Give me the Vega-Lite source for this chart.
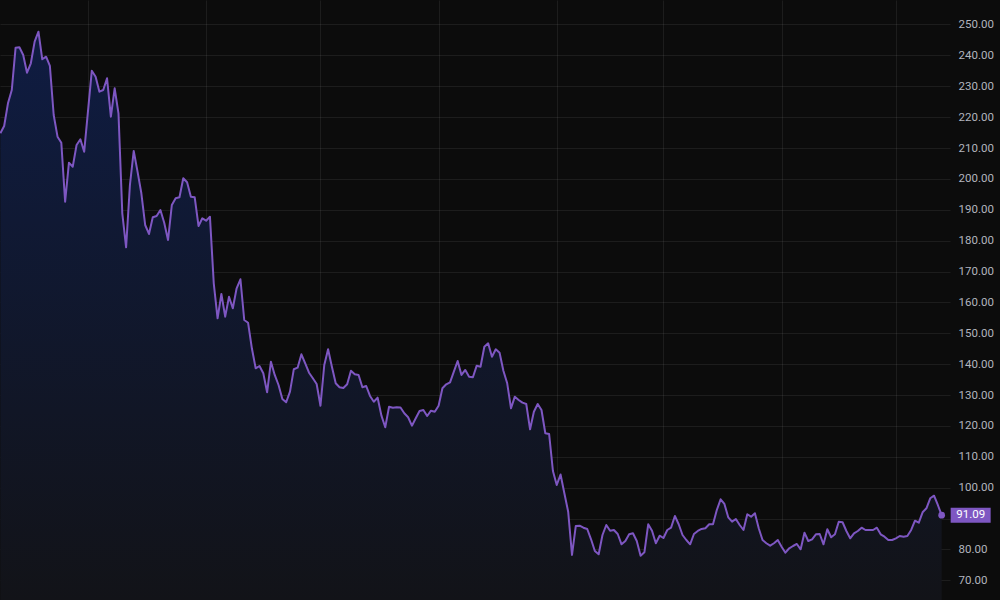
{
  "$schema": "https://vega.github.io/schema/vega-lite/v6.json",
  "width": 950,
  "height": 600,
  "autosize": "none",
  "padding": {"left": 0, "top": 0, "right": 50, "bottom": 0},
  "background": "#0c0c0c",
  "config": {"view": {"stroke": null}},
  "datasets": {
    "series": [
      {"date": "2022-09-08", "price": 214.77}, {"date": "2022-09-09", "price": 217.13}, {"date": "2022-09-10", "price": 224.48},
      {"date": "2022-09-11", "price": 228.79}, {"date": "2022-09-12", "price": 242.49}, {"date": "2022-09-13", "price": 242.62},
      {"date": "2022-09-14", "price": 240.12}, {"date": "2022-09-15", "price": 234.39}, {"date": "2022-09-16", "price": 237.44},
      {"date": "2022-09-17", "price": 244.43}, {"date": "2022-09-18", "price": 247.67}, {"date": "2022-09-19", "price": 238.73},
      {"date": "2022-09-20", "price": 239.57}, {"date": "2022-09-21", "price": 236.56}, {"date": "2022-09-22", "price": 220.69},
      {"date": "2022-09-23", "price": 213.67}, {"date": "2022-09-24", "price": 211.72}, {"date": "2022-09-25", "price": 192.62},
      {"date": "2022-09-26", "price": 205.25}, {"date": "2022-09-27", "price": 203.95}, {"date": "2022-09-28", "price": 210.98},
      {"date": "2022-09-29", "price": 212.82}, {"date": "2022-09-30", "price": 208.81}, {"date": "2022-10-02", "price": 235.04},
      {"date": "2022-10-03", "price": 233.1}, {"date": "2022-10-04", "price": 228.24}, {"date": "2022-10-05", "price": 228.79},
      {"date": "2022-10-06", "price": 232.58}, {"date": "2022-10-07", "price": 220.14}, {"date": "2022-10-08", "price": 229.34},
      {"date": "2022-10-09", "price": 221.24}, {"date": "2022-10-10", "price": 188.86}, {"date": "2022-10-11", "price": 177.85},
      {"date": "2022-10-12", "price": 198.02}, {"date": "2022-10-13", "price": 209.04}, {"date": "2022-10-14", "price": 202.33},
      {"date": "2022-10-15", "price": 195.34}, {"date": "2022-10-16", "price": 185.07}, {"date": "2022-10-17", "price": 182.16},
      {"date": "2022-10-18", "price": 187.56}, {"date": "2022-10-19", "price": 187.99}, {"date": "2022-10-20", "price": 189.93},
      {"date": "2022-10-21", "price": 185.82}, {"date": "2022-10-22", "price": 180.21}, {"date": "2022-10-23", "price": 191.55},
      {"date": "2022-10-24", "price": 193.72}, {"date": "2022-10-25", "price": 194.04}, {"date": "2022-10-26", "price": 200.19},
      {"date": "2022-10-27", "price": 198.9}, {"date": "2022-10-28", "price": 194.24}, {"date": "2022-10-29", "price": 194.04},
      {"date": "2022-10-30", "price": 184.75}, {"date": "2022-10-31", "price": 187.24}, {"date": "2022-11-01", "price": 186.46},
      {"date": "2022-11-02", "price": 187.76}, {"date": "2022-11-03", "price": 166.19}, {"date": "2022-11-04", "price": 154.86},
      {"date": "2022-11-05", "price": 162.73}, {"date": "2022-11-06", "price": 155.38}, {"date": "2022-11-07", "price": 161.85},
      {"date": "2022-11-08", "price": 158.1}, {"date": "2022-11-09", "price": 164.57}, {"date": "2022-11-10", "price": 167.49},
      {"date": "2022-11-11", "price": 154.31}, {"date": "2022-11-12", "price": 153.43}, {"date": "2022-11-13", "price": 145.14},
      {"date": "2022-11-14", "price": 138.67}, {"date": "2022-11-15", "price": 139.41}, {"date": "2022-11-16", "price": 137.05},
      {"date": "2022-11-17", "price": 130.89}, {"date": "2022-11-18", "price": 140.8}, {"date": "2022-11-19", "price": 136.5},
      {"date": "2022-11-20", "price": 133.26}, {"date": "2022-11-21", "price": 128.72}, {"date": "2022-11-22", "price": 127.66},
      {"date": "2022-11-23", "price": 131.09}, {"date": "2022-11-24", "price": 138.34}, {"date": "2022-11-25", "price": 138.86},
      {"date": "2022-11-26", "price": 143.2}, {"date": "2022-11-27", "price": 140.28}, {"date": "2022-11-28", "price": 137.24},
      {"date": "2022-11-29", "price": 135.43}, {"date": "2022-11-30", "price": 133.58}, {"date": "2022-12-01", "price": 126.55},
      {"date": "2022-12-02", "price": 139.73}, {"date": "2022-12-03", "price": 144.82}, {"date": "2022-12-04", "price": 139.18},
      {"date": "2022-12-05", "price": 133.81}, {"date": "2022-12-06", "price": 132.51}, {"date": "2022-12-07", "price": 132.29},
      {"date": "2022-12-08", "price": 133.48}, {"date": "2022-12-09", "price": 137.89}, {"date": "2022-12-10", "price": 136.72},
      {"date": "2022-12-11", "price": 136.5}, {"date": "2022-12-12", "price": 132.51}, {"date": "2022-12-13", "price": 132.93},
      {"date": "2022-12-14", "price": 129.7}, {"date": "2022-12-15", "price": 127.85}, {"date": "2022-12-16", "price": 129.15},
      {"date": "2022-12-17", "price": 123.32}, {"date": "2022-12-18", "price": 119.56}, {"date": "2022-12-19", "price": 126.23},
      {"date": "2022-12-20", "price": 125.91}, {"date": "2022-12-21", "price": 126.04}, {"date": "2022-12-22", "price": 125.95},
      {"date": "2022-12-23", "price": 124.09}, {"date": "2022-12-24", "price": 122.8}, {"date": "2022-12-25", "price": 120.08},
      {"date": "2022-12-26", "price": 122.47}, {"date": "2022-12-27", "price": 124.84}, {"date": "2022-12-28", "price": 125.16},
      {"date": "2022-12-29", "price": 123.22}, {"date": "2022-12-30", "price": 124.94}, {"date": "2022-12-31", "price": 124.61},
      {"date": "2023-01-01", "price": 126.55}, {"date": "2023-01-02", "price": 132.19}, {"date": "2023-01-03", "price": 133.48},
      {"date": "2023-01-04", "price": 134.13}, {"date": "2023-01-05", "price": 137.56}, {"date": "2023-01-06", "price": 141.03},
      {"date": "2023-01-07", "price": 136.5}, {"date": "2023-01-08", "price": 138.12}, {"date": "2023-01-09", "price": 135.95},
      {"date": "2023-01-10", "price": 135.75}, {"date": "2023-01-11", "price": 139.51}, {"date": "2023-01-12", "price": 139.18},
      {"date": "2023-01-13", "price": 145.66}, {"date": "2023-01-14", "price": 146.76}, {"date": "2023-01-15", "price": 142.42},
      {"date": "2023-01-16", "price": 144.82}, {"date": "2023-01-17", "price": 143.72}, {"date": "2023-01-18", "price": 137.89},
      {"date": "2023-01-19", "price": 133.81}, {"date": "2023-01-20", "price": 125.71}, {"date": "2023-01-21", "price": 129.47},
      {"date": "2023-01-22", "price": 128.4}, {"date": "2023-01-23", "price": 127.53}, {"date": "2023-01-24", "price": 127.1},
      {"date": "2023-01-25", "price": 118.91}, {"date": "2023-01-26", "price": 124.61}, {"date": "2023-01-27", "price": 127.1},
      {"date": "2023-01-28", "price": 125.16}, {"date": "2023-01-29", "price": 117.62}, {"date": "2023-01-30", "price": 117.39},
      {"date": "2023-01-31", "price": 105.41}, {"date": "2023-02-01", "price": 100.87}, {"date": "2023-02-02", "price": 104.27},
      {"date": "2023-02-03", "price": 98.19}, {"date": "2023-02-04", "price": 92.23}, {"date": "2023-02-05", "price": 78.21},
      {"date": "2023-02-06", "price": 87.6}, {"date": "2023-02-07", "price": 87.69}, {"date": "2023-02-08", "price": 87.05},
      {"date": "2023-02-09", "price": 86.63}, {"date": "2023-02-10", "price": 83.29}, {"date": "2023-02-11", "price": 79.5},
      {"date": "2023-02-12", "price": 78.43}, {"date": "2023-02-13", "price": 84.68}, {"date": "2023-02-14", "price": 87.92},
      {"date": "2023-02-15", "price": 86.07}, {"date": "2023-02-16", "price": 86.3}, {"date": "2023-02-17", "price": 85.01},
      {"date": "2023-02-18", "price": 81.67}, {"date": "2023-02-19", "price": 82.74}, {"date": "2023-02-20", "price": 84.91},
      {"date": "2023-02-21", "price": 85.23}, {"date": "2023-02-22", "price": 82.74}, {"date": "2023-02-23", "price": 77.98},
      {"date": "2023-02-24", "price": 79.08}, {"date": "2023-02-25", "price": 88.15}, {"date": "2023-02-26", "price": 86.07},
      {"date": "2023-02-27", "price": 82.0}, {"date": "2023-02-28", "price": 84.46}, {"date": "2023-03-01", "price": 83.71},
      {"date": "2023-03-02", "price": 86.3}, {"date": "2023-03-03", "price": 87.05}, {"date": "2023-03-04", "price": 90.84},
      {"date": "2023-03-05", "price": 88.15}, {"date": "2023-03-06", "price": 84.68}, {"date": "2023-03-07", "price": 83.06},
      {"date": "2023-03-08", "price": 81.67}, {"date": "2023-03-09", "price": 85.01}, {"date": "2023-03-10", "price": 85.98},
      {"date": "2023-03-11", "price": 86.63}, {"date": "2023-03-12", "price": 86.85}, {"date": "2023-03-13", "price": 88.15},
      {"date": "2023-03-14", "price": 88.15}, {"date": "2023-03-15", "price": 92.78}, {"date": "2023-03-16", "price": 96.24},
      {"date": "2023-03-17", "price": 94.72}, {"date": "2023-03-18", "price": 90.41}, {"date": "2023-03-19", "price": 88.99},
      {"date": "2023-03-20", "price": 89.86}, {"date": "2023-03-21", "price": 87.92}, {"date": "2023-03-22", "price": 86.3},
      {"date": "2023-03-23", "price": 91.39}, {"date": "2023-03-24", "price": 90.61}, {"date": "2023-03-25", "price": 91.71},
      {"date": "2023-03-26", "price": 86.85}, {"date": "2023-03-27", "price": 83.06}, {"date": "2023-03-28", "price": 82.0},
      {"date": "2023-03-29", "price": 81.22}, {"date": "2023-03-30", "price": 82.0}, {"date": "2023-03-31", "price": 83.06},
      {"date": "2023-04-01", "price": 80.89}, {"date": "2023-04-02", "price": 78.95}, {"date": "2023-04-03", "price": 80.38},
      {"date": "2023-04-04", "price": 81.12}, {"date": "2023-04-05", "price": 81.77}, {"date": "2023-04-06", "price": 80.05},
      {"date": "2023-04-07", "price": 85.43}, {"date": "2023-04-08", "price": 82.74}, {"date": "2023-04-09", "price": 83.29},
      {"date": "2023-04-10", "price": 84.91}, {"date": "2023-04-11", "price": 85.01}, {"date": "2023-04-12", "price": 81.67},
      {"date": "2023-04-13", "price": 86.53}, {"date": "2023-04-14", "price": 83.94}, {"date": "2023-04-15", "price": 84.91},
      {"date": "2023-04-16", "price": 88.99}, {"date": "2023-04-17", "price": 88.8}, {"date": "2023-04-18", "price": 85.98},
      {"date": "2023-04-19", "price": 83.61}, {"date": "2023-04-20", "price": 85.23}, {"date": "2023-04-21", "price": 85.98},
      {"date": "2023-04-22", "price": 87.05}, {"date": "2023-04-23", "price": 86.3}, {"date": "2023-04-24", "price": 86.3},
      {"date": "2023-04-25", "price": 86.3}, {"date": "2023-04-26", "price": 87.05}, {"date": "2023-04-27", "price": 84.91},
      {"date": "2023-04-28", "price": 84.13}, {"date": "2023-04-29", "price": 83.06}, {"date": "2023-04-30", "price": 83.06},
      {"date": "2023-05-01", "price": 83.61}, {"date": "2023-05-02", "price": 84.36}, {"date": "2023-05-03", "price": 84.13},
      {"date": "2023-05-04", "price": 84.36}, {"date": "2023-05-05", "price": 86.3}, {"date": "2023-05-06", "price": 89.31},
      {"date": "2023-05-07", "price": 88.67}, {"date": "2023-05-08", "price": 92.03}, {"date": "2023-05-09", "price": 93.33},
      {"date": "2023-05-10", "price": 96.57}, {"date": "2023-05-11", "price": 97.41}, {"date": "2023-05-12", "price": 94.4},
      {"date": "2023-05-13", "price": 91.09}
    ],
    "last": [{"date": "2023-05-13", "price": 91.09, "label": "91.09"}]
  },
  "data": {"name": "series"},
  "encoding": {
    "x": {
      "field": "date",
      "type": "temporal",
      "scale": {
        "type": "utc",
        "domain": [
          {"year": 2022, "month": 9, "date": 7, "hours": 21, "minutes": 50, "utc": true},
          {"year": 2023, "month": 5, "date": 15, "hours": 4, "minutes": 34, "utc": true}
        ]
      },
      "axis": {
        "orient": "bottom",
        "title": null,
        "labels": false,
        "ticks": false,
        "domain": false,
        "grid": true,
        "gridColor": "#ffffff",
        "gridOpacity": 0.07,
        "gridWidth": 1,
        "values": [
          {"year": 2022, "month": 10, "date": 1, "utc": true},
          {"year": 2022, "month": 11, "date": 1, "utc": true},
          {"year": 2022, "month": 12, "date": 1, "utc": true},
          {"year": 2023, "month": 1, "date": 1, "utc": true},
          {"year": 2023, "month": 2, "date": 1, "utc": true},
          {"year": 2023, "month": 3, "date": 1, "utc": true},
          {"year": 2023, "month": 4, "date": 1, "utc": true},
          {"year": 2023, "month": 5, "date": 1, "utc": true}
        ]
      }
    },
    "y": {
      "field": "price",
      "type": "quantitative",
      "scale": {"domain": [63.63, 257.93], "nice": false, "zero": false},
      "axis": {
        "orient": "right",
        "title": null,
        "values": [70, 80, 90, 100, 110, 120, 130, 140, 150, 160, 170, 180, 190, 200, 210, 220, 230, 240, 250],
        "labelExpr": "datum.value == 90 ? '' : format(datum.value, '.2f')",
        "ticks": false,
        "domain": false,
        "grid": true,
        "gridColor": "#ffffff",
        "gridOpacity": 0.07,
        "gridWidth": 1,
        "labelPadding": 8,
        "labelAlign": "left",
        "labelBaseline": "middle",
        "labelColor": "#b2b5be",
        "labelFont": "Roboto",
        "labelFontSize": 11.5,
        "labelOverlap": false
      }
    }
  },
  "layer": [
    {
      "mark": {
        "type": "area",
        "color": {
          "gradient": "linear",
          "x1": 0, "y1": 0, "x2": 0, "y2": 1,
          "stops": [
            {"offset": 0, "color": "#0f1c42"},
            {"offset": 1, "color": "#121318"}
          ]
        }
      },
      "encoding": {"y2": {"datum": 63.63}}
    },
    {
      "mark": {"type": "line", "color": "#7e57c2", "strokeWidth": 2, "strokeJoin": "round"}
    },
    {
      "data": {"name": "last"},
      "mark": {"type": "point", "filled": true, "color": "#7e57c2", "size": 45, "opacity": 1}
    },
    {
      "data": {"name": "last"},
      "mark": {
        "type": "point",
        "filled": true,
        "color": "#7e57c2",
        "opacity": 1,
        "shape": "M-1,-0.375H1V0.375H-1Z",
        "size": 1600,
        "xOffset": 29
      }
    },
    {
      "data": {"name": "last"},
      "mark": {
        "type": "text",
        "color": "#ffffff",
        "font": "Roboto",
        "fontSize": 11.5,
        "align": "center",
        "baseline": "middle",
        "dx": 29
      },
      "encoding": {"text": {"field": "label"}}
    }
  ]
}
